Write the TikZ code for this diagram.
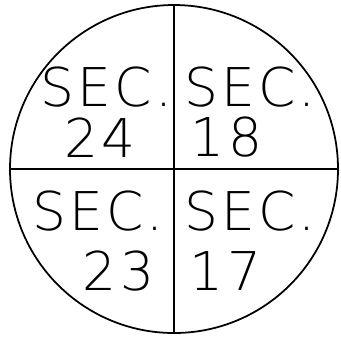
\documentclass[tikz,border=0pt]{standalone}
\usepackage{fontspec}
\newfontfamily\cadfont[LetterSpace=6]{DejaVu Sans ExtraLight}
\begin{document}
\begin{tikzpicture}[lbl/.style={inner sep=0pt,font=\cadfont\fontsize{15.2}{16}\selectfont}]
\useasboundingbox (-1.74,-1.68) rectangle (1.67,1.69);
\draw[line width=.5pt] (0,0) circle(1.64);
\draw[line width=.5pt] (0,-1.64)--(0,1.64);
\draw[line width=.5pt] (-1.64,0)--(1.64,0);
\node[lbl] (sec24) at (-.675,.815) {SEC.};\node[lbl] (num24) at (-.74,.315) {24};
\node[lbl] (sec18) at (.76,.815) {SEC.};\node[lbl] (num18) at (.525,.315) {18};
\node[lbl] (sec23) at (-.76,-.42) {SEC.};\node[lbl] (num23) at (-.555,-1.025) {23};
\node[lbl] (sec17) at (.76,-.42) {SEC.};\node[lbl] (num17) at (.515,-1.025) {17};
\end{tikzpicture}
\end{document}
